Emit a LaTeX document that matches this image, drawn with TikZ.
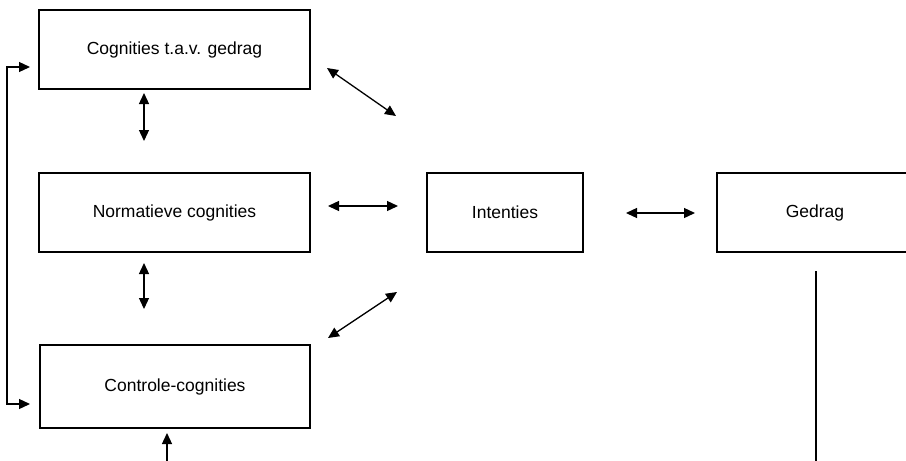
\documentclass[tikz,border=0pt]{standalone}
\usepackage{fontspec}
\setmainfont{Liberation Sans}
\usetikzlibrary{arrows.meta}
\begin{document}
\begin{tikzpicture}[x=1pt,y=-1pt,
  boxstyle/.style={draw, line width=1.3pt, minimum height=79pt, inner sep=0pt, font=\fontsize{17.5}{20}\selectfont},
  conn/.style={line width=1.3pt, {Triangle[length=11pt,width=10pt]}-{Triangle[length=11pt,width=10pt]}},
  oneway/.style={line width=1.3pt, -{Triangle[length=11pt,width=10pt]}},
  plain/.style={line width=1.3pt}]
\useasboundingbox (0,0) rectangle (906,461);
\clip (0,0) rectangle (906,461);
\node[boxstyle, minimum width=271pt] (cog) at (174.5,49.5) {Cognities t.a.v. gedrag};
\node[boxstyle, minimum width=271pt] (norm) at (174.5,212.5) {Normatieve cognities};
\node[boxstyle, minimum width=270pt, minimum height=83pt] (contr) at (175,386.5) {Controle-cognities};
\node[boxstyle, minimum width=156pt] (int) at (505,212.5) {Intenties};
\node[boxstyle, minimum width=196pt] (ged) at (815,212.5) {Gedrag};
% endpoints
\coordinate (a1) at (144,93);  \coordinate (a2) at (144,141);
\coordinate (b1) at (144,263); \coordinate (b2) at (144,309);
\coordinate (c1) at (327,68);  \coordinate (c2) at (396,116);
\coordinate (d1) at (328,206); \coordinate (d2) at (398,206);
\coordinate (e1) at (328,338); \coordinate (e2) at (397,292);
\coordinate (f1) at (626,213); \coordinate (f2) at (695,213);
\coordinate (g1) at (167,462); \coordinate (g2) at (167,433);
\coordinate (h1) at (816,271); \coordinate (h2) at (816,462);
\coordinate (l1) at (30,67);   \coordinate (l2) at (30,404);
\draw[conn] (a1) -- (a2);
\draw[conn] (b1) -- (b2);
\draw[conn] (c1) -- (c2);
\draw[conn] (d1) -- (d2);
\draw[conn] (e1) -- (e2);
\draw[conn] (f1) -- (f2);
\draw[oneway] (g1) -- (g2);
\draw[plain] (h1) -- (h2);
\draw[conn] (l1) -| (7,235) |- (l2);
\end{tikzpicture}
\end{document}
